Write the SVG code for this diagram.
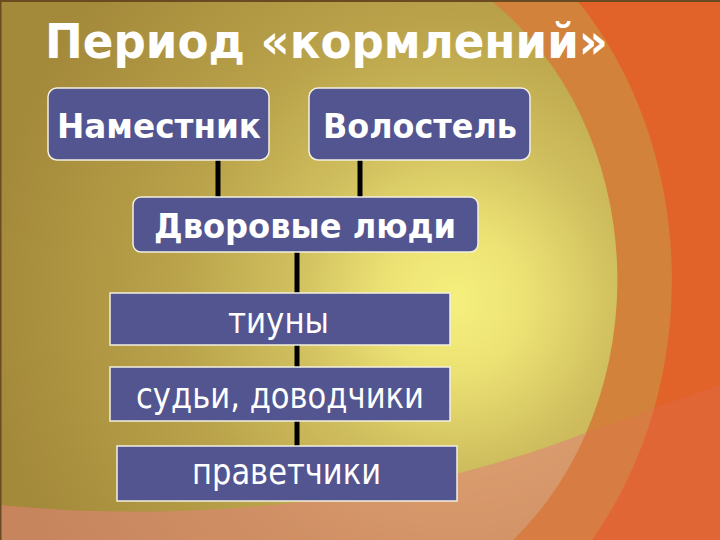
<svg xmlns="http://www.w3.org/2000/svg" width="720" height="540" viewBox="0 0 720 540">
<defs>
<radialGradient id="glow" gradientUnits="userSpaceOnUse" cx="455" cy="300" r="470">
<stop offset="0" stop-color="#f5f07e"/>
<stop offset="0.15" stop-color="#ece274"/>
<stop offset="0.35" stop-color="#d0bf5e"/>
<stop offset="0.6" stop-color="#b9a24a"/>
<stop offset="1" stop-color="#a3893a"/>
</radialGradient>
<clipPath id="glowClip">
<path d="M0 0 H490 A287 337 0 0 1 513 540 H0 Z"/>
</clipPath>
<style>
.box{fill:#535591;stroke:#f2f0e0;stroke-width:1.5}
.b{font-family:"DejaVu Sans","Liberation Sans",sans-serif;font-weight:bold;fill:#ffffff}
.r{font-family:"DejaVu Sans","Liberation Sans",sans-serif;fill:#ffffff}
.conn line{stroke:#000000;stroke-width:5}
</style>
</defs>
<g id="background">
<rect x="0" y="0" width="720" height="540" fill="#e1632a"/>
<path d="M0 0 H577 A342 405 0 0 1 592 540 H0 Z" fill="#d3823c"/>
<path d="M0 0 H490 A287 337 0 0 1 513 540 H0 Z" fill="url(#glow)"/>
<path d="M0 505 C150 520 380 515 593 430 L720 385 L720 540 L0 540 Z" fill="#e2705a" fill-opacity="0.25"/>
<path d="M0 505 C150 520 380 515 593 430 L720 385 L720 540 L0 540 Z" fill="#e08a80" fill-opacity="0.45" clip-path="url(#glowClip)"/>
<rect x="0" y="0" width="720" height="2" fill="#6a4a20"/>
<rect x="0" y="0" width="1.5" height="540" fill="#6a4a20"/>
</g>
<g id="title">
<text class="b" x="45" y="58" font-size="48" textLength="563" lengthAdjust="spacingAndGlyphs">Период «кормлений»</text>
</g>
<g id="connectors" class="conn">
<line x1="218" y1="160" x2="218" y2="197"/>
<line x1="360" y1="160" x2="360" y2="197"/>
<line x1="297" y1="252" x2="297" y2="293"/>
<line x1="297" y1="345" x2="297" y2="367"/>
<line x1="297" y1="421" x2="297" y2="446"/>
</g>
<g id="node-namestnik">
<rect class="box" x="48" y="88" width="221" height="72" rx="9"/>
<text class="b" x="57" y="138" font-size="34" textLength="204" lengthAdjust="spacingAndGlyphs">Наместник</text>
</g>
<g id="node-volostel">
<rect class="box" x="309" y="88" width="221" height="72" rx="9"/>
<text class="b" x="323" y="138" font-size="34" textLength="194" lengthAdjust="spacingAndGlyphs">Волостель</text>
</g>
<g id="node-dvorovye">
<rect class="box" x="133" y="197" width="345" height="55" rx="8"/>
<text class="b" x="154" y="238" font-size="34" textLength="302" lengthAdjust="spacingAndGlyphs">Дворовые люди</text>
</g>
<g id="node-tiuny">
<rect class="box" x="110" y="293" width="340" height="52"/>
<text class="r" x="228" y="333" font-size="36" textLength="101" lengthAdjust="spacingAndGlyphs">тиуны</text>
</g>
<g id="node-sudi">
<rect class="box" x="110" y="367" width="340" height="54"/>
<text class="r" x="136" y="408" font-size="36" textLength="288" lengthAdjust="spacingAndGlyphs">судьи, доводчики</text>
</g>
<g id="node-pravetchiki">
<rect class="box" x="117" y="446" width="340" height="55"/>
<text class="r" x="192" y="484" font-size="36" textLength="189" lengthAdjust="spacingAndGlyphs">праветчики</text>
</g>
</svg>
